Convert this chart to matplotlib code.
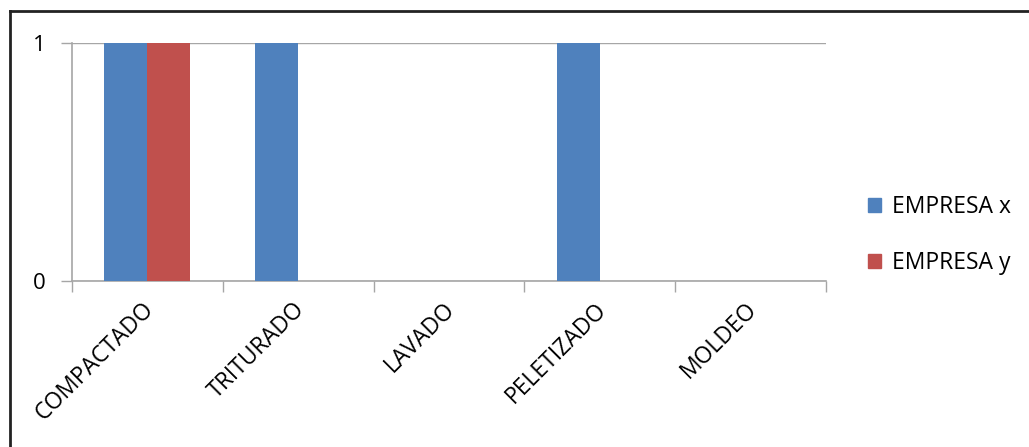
import matplotlib.pyplot as plt
from matplotlib.lines import Line2D
from matplotlib.patches import Patch
import numpy as np

plt.rcParams['font.family'] = ['Open Sans', 'DejaVu Sans']

procesos = ['COMPACTADO', 'TRITURADO', 'LAVADO', 'PELETIZADO', 'MOLDEO']
empresa_x = [1, 1, 0, 1, 0]
empresa_y = [1, 0, 0, 0, 0]

azul = '#4F81BD'
rojo = '#C0504D'
gris = '#A6A6A6'

fig = plt.figure(figsize=(10.29, 4.47), dpi=100)
ax = fig.add_axes([72/1029, 1 - 281/447, (826 - 72)/1029, (281 - 43)/447])

x = np.arange(len(procesos))
ancho = 1 / 3.5
ax.bar(x - ancho/2, empresa_x, ancho, color=azul, label='EMPRESA x', zorder=3)
ax.bar(x + ancho/2, empresa_y, ancho, color=rojo, label='EMPRESA y', zorder=3)

ax.set_xlim(-0.5, len(procesos) - 0.5)
ax.set_ylim(0, 1)
ax.set_yticks([0, 1])
ax.set_yticklabels(['0', '1'], fontsize=16)
ax.yaxis.grid(True, color=gris, linewidth=1, zorder=0)

# ticks on category boundaries, labels at the centres
ax.set_xticks(np.arange(len(procesos) + 1) - 0.5)
ax.set_xticklabels([])
ax.tick_params(axis='x', length=8, color=gris, width=1)
ax.tick_params(axis='y', length=8, color=gris, width=1, pad=11)
for i, nombre in enumerate(procesos):
    ax.annotate(nombre, xy=(i, 0), xycoords=('data', 'axes fraction'),
                xytext=(2, -18), textcoords='offset points',
                rotation=45, rotation_mode='anchor', ha='right', va='center',
                fontsize=16.5)

for lado in ['top', 'right']:
    ax.spines[lado].set_visible(False)
for lado in ['left', 'bottom']:
    ax.spines[lado].set_color(gris)
    ax.spines[lado].set_linewidth(1.2)

handles = [Patch(color=azul), Patch(color=rojo)]
fig.legend(handles, ['EMPRESA x', 'EMPRESA y'], loc='center left',
           bbox_to_anchor=(847/1029, 1 - 235/447), frameon=False,
           fontsize=16.5, handlelength=0.6, handleheight=0.6,
           handletextpad=0.45, labelspacing=1.4)

# frame lines along the top and left edge
fig.add_artist(Line2D([10/1029, 1], [1 - 11/447, 1 - 11/447], transform=fig.transFigure,
                      color='#222222', linewidth=2))
fig.add_artist(Line2D([10/1029, 10/1029], [0, 1 - 11/447], transform=fig.transFigure,
                      color='#222222', linewidth=2))

fig.savefig('out.png', dpi=100)
